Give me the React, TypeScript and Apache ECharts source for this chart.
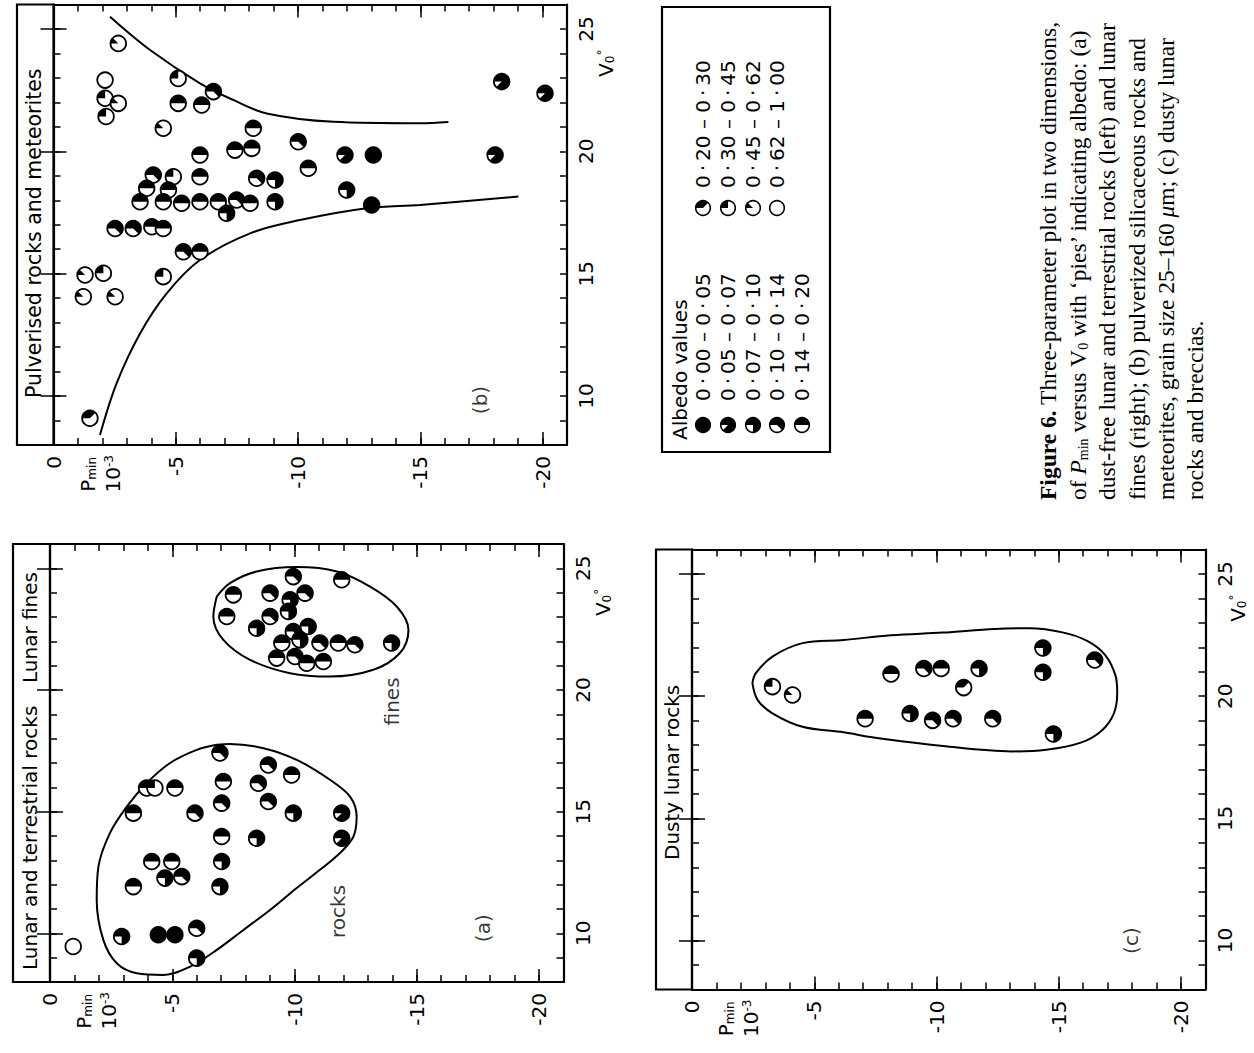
import React, { useEffect, useRef } from "react";
import * as echarts from "echarts";

const FONT = "DejaVu Sans";
const SERIF = "Liberation Serif";

// ---------- axis ticks ----------
const pTicks = [0, -1, -2, -3, -4, -5, -6, -7, -8, -9, -10, -11, -12, -13, -14, -15, -16, -17, -18, -19, -20, -21];
const pMajorTicks = [0, -5, -10, -15, -20];
const v0Ticks = [8, 9, 10, 11, 12, 13, 14, 15, 16, 17, 18, 19, 20, 21, 22, 23, 24, 25, 26];
const v0MajorTicks = [10, 15, 20, 25];

// ---------- albedo classes (black fraction of each pie) ----------
const albedoLabels = [
  "0\u2009·\u200900 – 0\u2009·\u200905", "0\u2009·\u200905 – 0\u2009·\u200907", "0\u2009·\u200907 – 0\u2009·\u200910",
  "0\u2009·\u200910 – 0\u2009·\u200914", "0\u2009·\u200914 – 0\u2009·\u200920",
  "0\u2009·\u200920 – 0\u2009·\u200930", "0\u2009·\u200930 – 0\u2009·\u200945", "0\u2009·\u200945 – 0\u2009·\u200962",
  "0\u2009·\u200962 – 1\u2009·\u200900",
];
const blackFraction = [1, 0.875, 0.75, 0.625, 0.5, 0.375, 0.25, 0.125, 0];

// ---------- data: [Pmin (10^-3), V0 (deg), albedo class] ----------
const pulverisedPoints = [
  [-2.65, 24.41, 7], [-2.11, 22.91, 8], [-2.11, 22.17, 6], [-2.65, 21.96, 7], [-2.15, 21.42, 6],
  [-4.49, 20.94, 7], [-5.10, 22.98, 6], [-5.10, 21.96, 4], [-6.06, 21.89, 4], [-6.54, 22.44, 3],
  [-5.99, 19.85, 4], [-5.99, 18.96, 4], [-5.99, 17.94, 4], [-4.90, 18.96, 6], [-4.08, 19.03, 3],
  [-3.81, 18.49, 4], [-4.70, 18.42, 4], [-4.49, 17.94, 4], [-5.24, 17.88, 4], [-3.54, 17.94, 4],
  [-6.74, 17.94, 4], [-7.49, 18.01, 3], [-7.08, 17.47, 2], [-8.04, 17.88, 4], [-9.06, 17.94, 2],
  [-7.42, 20.05, 4], [-8.11, 20.12, 4], [-8.17, 20.94, 4], [-8.31, 18.90, 3], [-9.06, 18.83, 2],
  [-10.01, 20.39, 3], [-10.42, 19.31, 4], [-11.92, 19.85, 1], [-11.99, 18.42, 2], [-13.08, 19.85, 0],
  [-13.01, 17.81, 0], [-2.52, 16.85, 3], [-3.26, 16.85, 3], [-4.02, 16.92, 4], [-4.49, 16.85, 4],
  [-5.31, 15.90, 3], [-5.99, 15.90, 4], [-4.49, 14.88, 6], [-1.29, 14.95, 7], [-2.04, 15.02, 6],
  [-1.22, 14.06, 7], [-2.52, 14.06, 7], [-1.49, 9.09, 5], [-18.33, 22.85, 1], [-20.10, 22.37, 1],
  [-18.06, 19.85, 1],
];
const lunarFinesPoints = [
  [-9.95, 24.66, 3], [-11.93, 24.53, 4], [-7.50, 23.91, 4], [-9.00, 23.98, 3], [-10.43, 23.98, 3],
  [-9.82, 23.71, 2], [-7.23, 23.02, 4], [-9.00, 23.02, 3], [-9.75, 23.23, 2], [-8.45, 22.54, 2],
  [-10.56, 22.61, 2], [-9.95, 22.40, 3], [-9.48, 21.93, 4], [-10.22, 22.06, 2], [-11.04, 21.93, 3],
  [-11.79, 21.93, 4], [-12.47, 21.86, 3], [-13.97, 21.93, 2], [-9.27, 21.31, 4], [-10.02, 21.38, 3],
  [-10.50, 21.10, 4], [-11.18, 21.17, 4],
];
const lunarRocksPoints = [
  [-6.95, 17.41, 3], [-8.93, 16.92, 3], [-9.88, 16.51, 4], [-7.09, 16.24, 4], [-8.52, 16.17, 3],
  [-3.95, 15.97, 5], [-4.29, 15.97, 6], [-5.11, 15.97, 4], [-3.41, 14.94, 4], [-5.93, 14.94, 3],
  [-7.02, 15.35, 3], [-8.93, 15.42, 3], [-9.95, 14.94, 2], [-11.93, 14.94, 1], [-11.93, 13.91, 1],
  [-7.02, 13.98, 4], [-8.45, 13.91, 2], [-4.16, 12.95, 4], [-4.98, 12.95, 4], [-4.70, 12.27, 2],
  [-5.39, 12.33, 3], [-7.02, 12.95, 2], [-6.95, 11.92, 2], [-3.41, 11.92, 4], [-2.93, 9.87, 2],
  [-4.43, 9.94, 0], [-5.11, 9.94, 0], [-6.00, 10.21, 3], [-6.00, 8.98, 2], [-0.95, 9.46, 8],
];
const dustyPoints = [
  [-8.14, 20.91, 4], [-7.08, 19.08, 4], [-9.48, 21.13, 3], [-10.19, 21.13, 4], [-8.92, 19.29, 2],
  [-9.84, 19.01, 3], [-10.68, 19.08, 3], [-11.11, 20.35, 5], [-11.74, 21.13, 2], [-12.30, 19.08, 3],
  [-14.35, 21.97, 2], [-14.35, 20.98, 2], [-14.78, 18.45, 2], [-16.47, 21.48, 3], [-3.29, 20.39, 6],
  [-4.11, 20.05, 7],
];

// ---------- envelope curves: [Pmin, V0] ----------
const pulverisedUpper = [
  [-2.31, 25.5], [-3.95, 24.14], [-5.99, 22.78], [-7.35, 22.1], [-8.72, 21.55],
  [-11.44, 21.21], [-14.99, 21.15], [-16.15, 21.2],
];
const pulverisedLower = [
  [-1.9, 8.41], [-2.58, 10.52], [-3.54, 12.56], [-4.63, 14.2], [-5.99, 15.56],
  [-8.04, 16.65], [-10.08, 17.19], [-12.81, 17.67], [-14.99, 17.81], [-19.01, 18.15],
];
const rocksEnvelope = [
  [-6.82, 17.75], [-7.36, 17.78], [-8.73, 17.61], [-10.09, 17.13], [-11.45, 16.31], [-12.27, 15.62],
  [-12.54, 14.8], [-12.41, 13.98], [-11.86, 13.3], [-11.04, 12.61], [-10.09, 11.86], [-9.0, 10.96],
  [-7.91, 10.14], [-6.82, 9.32], [-5.73, 8.63], [-4.63, 8.29], [-3.55, 8.36], [-2.73, 8.77],
  [-2.18, 9.73], [-1.91, 11.38], [-1.98, 12.74], [-2.45, 14.12], [-3.14, 15.21], [-3.95, 16.17],
  [-4.91, 17.0], [-6.0, 17.54], [-6.82, 17.75],
];
const finesEnvelope = [
  [-6.82, 23.84], [-7.36, 24.39], [-8.45, 24.87], [-10.09, 25.05], [-11.73, 24.87], [-13.09, 24.25],
  [-14.18, 23.43], [-14.66, 22.47], [-14.31, 21.52], [-13.22, 20.83], [-11.45, 20.55], [-9.82, 20.69],
  [-8.18, 21.24], [-7.09, 22.06], [-6.68, 23.0], [-6.82, 23.84],
];
const dustyEnvelope = [
  [-2.47, 20.53], [-2.61, 20.94], [-3.29, 21.62], [-4.52, 22.17], [-6.2, 22.3], [-8.14, 22.49],
  [-10.26, 22.6], [-12.38, 22.75], [-13.79, 22.78], [-15.2, 22.6], [-16.18, 22.25], [-16.89, 21.69],
  [-17.32, 20.84], [-17.39, 20.14], [-17.25, 19.29], [-16.75, 18.59], [-15.9, 18.1], [-14.49, 17.81],
  [-13.08, 17.74], [-10.26, 17.96], [-7.43, 18.31], [-6.2, 18.52], [-4.52, 18.75], [-3.29, 19.3],
  [-2.68, 19.85], [-2.47, 20.53],
];

// ---------- in-plot text labels: [text, Pmin, V0] ----------
const panelBLabels = [["(b)", -17.44, 9.84]];
const panelALabels = [["fines", -13.97, 19.53], ["rocks", -11.79, 10.9], ["(a)", -17.72, 10.21]];
const panelCLabels = [["(c)", -17.95, 10.0]];

const captionLines = [
  "{b|Figure 6.} Three-parameter plot in two dimensions,",
  "of {i|P}{sub|min} versus V{sub|0} with ‘pies’ indicating albedo: (a)",
  "dust-free lunar and terrestrial rocks (left) and lunar",
  "fines (right); (b) pulverized silicaceous rocks and",
  "meteorites, grain size 25–160 {i|μ}m; (c) dusty lunar",
  "rocks and breccias.",
];

// ---------- layout (pixels) ----------
// panel order: 0 = (b) pulverised, 1 = (a) lunar rocks/fines, 2 = (c) dusty lunar rocks
const grids = [
  { left: 53.5, top: 4.5, width: 513.5, height: 440.5, strip: 17 },
  { left: 50, top: 544, width: 513.5, height: 438, strip: 13 },
  { left: 692, top: 549.5, width: 513.5, height: 440, strip: 656 },
];

function pieParts(cx: number, cy: number, r: number, cls: number, lw: number) {
  const f = blackFraction[cls];
  const parts: any[] = [{ type: "circle", shape: { cx, cy, r }, style: { fill: "#fff" } }];
  if (f >= 1) {
    parts.push({ type: "circle", shape: { cx, cy, r }, style: { fill: "#000" } });
  } else if (f > 0) {
    parts.push({
      type: "sector",
      shape: { cx, cy, r, r0: 0, startAngle: -Math.PI, endAngle: -Math.PI + 2 * Math.PI * f, clockwise: true },
      style: { fill: "#000" },
    });
  }
  parts.push({ type: "circle", shape: { cx, cy, r }, style: { fill: "none", stroke: "#000", lineWidth: lw } });
  return parts;
}

const axisLine = { show: true, onZero: false, lineStyle: { color: "#000", width: 2.2 } };
const tickStyle = { color: "#000", width: 1.5 };
const labelStyle = { color: "#000", fontSize: 20, fontFamily: FONT };

function xAxesFor(g: number) {
  const base = { gridIndex: g, type: "value", min: -21, max: 0, inverse: true, splitLine: { show: false } };
  return [
    {
      ...base, position: "bottom", axisLine,
      axisTick: { show: true, inside: true, length: 7, customValues: pTicks, lineStyle: tickStyle },
      axisLabel: { show: true, customValues: pMajorTicks, rotate: 90, margin: 11, ...labelStyle },
    },
    {
      ...base, position: "bottom", axisLine: { show: false },
      axisTick: { show: true, inside: true, length: 13, customValues: pMajorTicks, lineStyle: tickStyle },
      axisLabel: { show: false },
    },
    {
      ...base, position: "top", axisLine,
      axisTick: { show: true, inside: true, length: 7, customValues: pTicks, lineStyle: tickStyle },
      axisLabel: { show: false },
    },
    {
      ...base, position: "top", axisLine: { show: false },
      axisTick: { show: true, inside: true, length: 13, customValues: pMajorTicks, lineStyle: tickStyle },
      axisLabel: { show: false },
    },
  ];
}

function yAxesFor(g: number) {
  const base = { gridIndex: g, type: "value", min: 8, max: 26, splitLine: { show: false } };
  return [
    {
      ...base, position: "right", axisLine,
      axisTick: { show: true, inside: true, length: 7, customValues: v0Ticks, lineStyle: tickStyle },
      axisLabel: { show: true, customValues: v0MajorTicks, rotate: 90, margin: 9, ...labelStyle },
    },
    {
      ...base, position: "right", axisLine: { show: false },
      axisTick: { show: true, inside: true, length: 13, customValues: v0MajorTicks, lineStyle: tickStyle },
      axisLabel: { show: false },
    },
    {
      ...base, position: "left", axisLine,
      axisTick: { show: true, inside: true, length: 7, customValues: v0Ticks, lineStyle: tickStyle },
      axisLabel: { show: false },
    },
    {
      ...base, position: "left", axisLine: { show: false },
      axisTick: { show: true, inside: true, length: 13, customValues: v0MajorTicks, lineStyle: tickStyle },
      axisLabel: { show: false },
    },
  ];
}

function pieSeries(name: string, data: number[][], g: number) {
  return {
    type: "custom", name, coordinateSystem: "cartesian2d",
    xAxisIndex: g * 4, yAxisIndex: g * 4, data, z: 3, silent: true,
    encode: { x: 0, y: 1 },
    renderItem: (_p: any, api: any) => {
      const c = api.coord([api.value(0), api.value(1)]);
      return { type: "group", children: pieParts(c[0], c[1], 7.8, api.value(2), 1.8) };
    },
  };
}

function curveSeries(data: number[][], g: number) {
  return {
    type: "line", data, xAxisIndex: g * 4, yAxisIndex: g * 4, symbol: "none", showSymbol: false,
    smooth: 0.35, lineStyle: { color: "#000", width: 2 }, z: 2, silent: true,
  };
}

function labelSeries(items: any[], g: number) {
  return {
    type: "scatter", xAxisIndex: g * 4, yAxisIndex: g * 4, symbolSize: 1, silent: true, z: 4,
    itemStyle: { color: "rgba(0,0,0,0)" },
    data: items.map((it) => ({ name: it[0], value: [it[1], it[2]] })),
    label: { show: true, formatter: "{b}", rotate: 90, position: "inside", ...labelStyle },
  };
}

function vText(x: number, y: number, text: string, opts: any = {}) {
  const align = opts.align || "left";
  return {
    type: "text", x, y, rotation: Math.PI / 2, silent: true,
    style: {
      text, fill: "#000", fontSize: opts.fontSize || 20, fontFamily: opts.fontFamily || FONT,
      fontWeight: opts.fontWeight || "normal",
      align, textAlign: align, verticalAlign: "middle", textVerticalAlign: "middle",
      rich: opts.rich,
    },
  };
}

const axisRich = {
  sub: { fontSize: 12, fontFamily: FONT, verticalAlign: "bottom", fill: "#000" },
  sup: { fontSize: 12, fontFamily: FONT, verticalAlign: "top", fill: "#000" },
};

function buildGraphics() {
  const els: any[] = [];
  // title strips
  grids.forEach((g) => {
    els.push({
      type: "rect", silent: true,
      shape: { x: g.strip, y: g.top, width: g.left - g.strip, height: g.height },
      style: { fill: "none", stroke: "#000", lineWidth: 2.2 },
    });
  });
  els.push(vText(33.5, 398, "Pulverised rocks and meteorites", { fontSize: 20.5 }));
  els.push(vText(29.5, 970, "Lunar and terrestrial rocks", { fontSize: 20 }));
  els.push(vText(29.5, 683, "Lunar fines", { fontSize: 20 }));
  els.push(vText(672, 860, "Dusty lunar rocks", { fontSize: 20 }));

  // axis names
  grids.forEach((g) => {
    const axisY = g.top + g.height;
    els.push(vText(g.left + 34, axisY + 12, "P{sub|min}", { align: "right", rich: axisRich }));
    els.push(vText(g.left + 59, axisY + 10, "10{sup|-3}", { align: "right", rich: axisRich }));
    const vy = g.top + ((26 - 23.6) / 18) * g.height;
    const vx = Math.min(g.left + g.width + 39, 1238);
    els.push(vText(vx, vy, "V{sub|0}{sup|°}", { align: "center", rich: axisRich }));
  });

  // legend box
  els.push({
    type: "rect", silent: true, shape: { x: 662, y: 7, width: 168, height: 445 },
    style: { fill: "none", stroke: "#000", lineWidth: 2.2 },
  });
  els.push(vText(680, 440, "Albedo values", { fontSize: 20 }));
  const colX = [703, 728, 753, 777, 802];
  albedoLabels.forEach((lab, i) => {
    const left = i < 5;
    const x = colX[left ? i : i - 5];
    const my = left ? 425 : 208;
    const ty = left ? 401 : 188;
    els.push({ type: "group", silent: true, children: pieParts(x, my, 7.3, i, 1.6) });
    els.push(vText(x, ty, lab, { fontSize: 20 }));
  });

  // caption
  const capX = [1048, 1078, 1107, 1137, 1166, 1195];
  const capRich = {
    b: { fontWeight: "bold", fontSize: 23.5, fontFamily: SERIF, fill: "#000" },
    i: { fontStyle: "italic", fontSize: 23.5, fontFamily: SERIF, fill: "#000" },
    sub: { fontSize: 14, fontFamily: SERIF, verticalAlign: "bottom", fill: "#000" },
  };
  captionLines.forEach((line, i) => {
    els.push(vText(capX[i], 500, line, { fontSize: 23.5, fontFamily: SERIF, rich: capRich }));
  });
  return els;
}

export default function App() {
  const ref = useRef<HTMLDivElement>(null);
  useEffect(() => {
    if (!ref.current) return;
    const chart = echarts.init(ref.current, undefined, { renderer: "svg" });
    const option: any = {
      animation: false,
      backgroundColor: "#fff",
      grid: grids.map((g) => ({ left: g.left, top: g.top, width: g.width, height: g.height, containLabel: false })),
      xAxis: [0, 1, 2].flatMap(xAxesFor),
      yAxis: [0, 1, 2].flatMap(yAxesFor),
      series: [
        curveSeries(pulverisedUpper, 0),
        curveSeries(pulverisedLower, 0),
        pieSeries("Pulverised rocks and meteorites", pulverisedPoints, 0),
        labelSeries(panelBLabels, 0),
        curveSeries(rocksEnvelope, 1),
        curveSeries(finesEnvelope, 1),
        pieSeries("Lunar and terrestrial rocks", lunarRocksPoints, 1),
        pieSeries("Lunar fines", lunarFinesPoints, 1),
        labelSeries(panelALabels, 1),
        curveSeries(dustyEnvelope, 2),
        pieSeries("Dusty lunar rocks", dustyPoints, 2),
        labelSeries(panelCLabels, 2),
      ],
      graphic: { elements: buildGraphics() },
    };
    chart.setOption(option);
    return () => chart.dispose();
  }, []);
  return (
    <div
      ref={ref}
      style={{ position: "absolute", left: 0, top: 0, width: 1254, height: 1053, background: "#fff" }}
    />
  );
}
